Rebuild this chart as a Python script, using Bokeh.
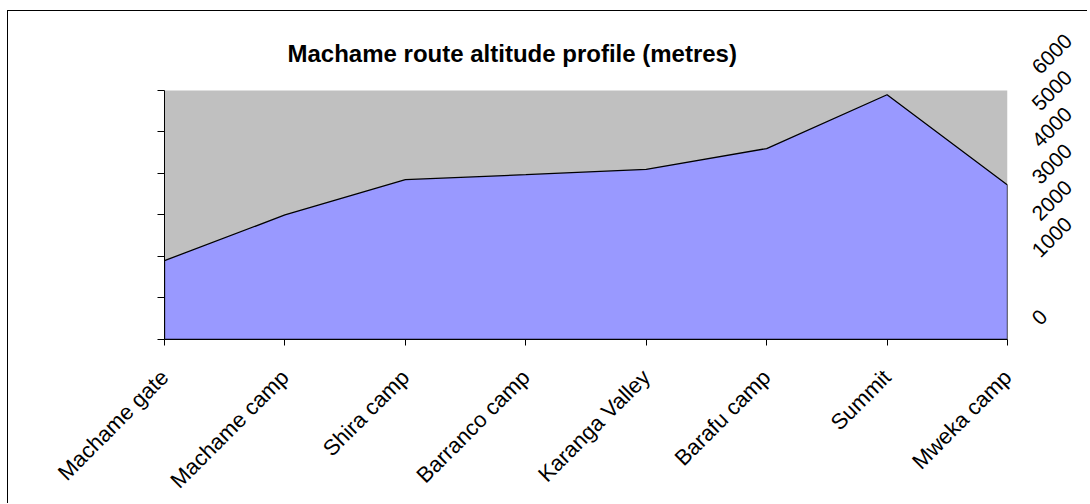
import math
from bokeh.plotting import figure
from bokeh.models import Range1d, LinearAxis, FixedTicker, BoxAnnotation
from bokeh.embed import file_html
from bokeh.resources import INLINE

# ---- data ----
categories = ["Machame gate", "Machame camp", "Shira camp", "Barranco camp",
              "Karanga Valley", "Barafu camp", "Summit", "Mweka camp"]
altitude = [1900, 3000, 3850, 3970, 4100, 4600, 5895, 3720]
left_ticks = [0, 1000, 2000, 3000, 4000, 5000, 6000]
right_tick_values = [0, 1000, 2000, 3000, 4000, 5000, 6000]
right_tick_labels = ["0", "1000", "2000", "3000", "4000", "5000", "6000"]
title_text = "Machame route altitude profile (metres)"

# ---- layout constants ----
W, H = 1080, 493
ML, MR, MT, MB = 156, 81, 55, 164
PLOT_TOP = 6000                      # top of the grey plot area
FRAME_PX = H - MT - MB               # frame height in px
PX_PER_UNIT = 250 / PLOT_TOP         # grey area is 250 px tall
Y_END = FRAME_PX / PX_PER_UNIT
RIGHT_RANGE = (-1337, 6109)          # secondary scale used only for label placement
ZERO_LABEL_AT = -848                 # where Excel drew its "0" label

xs = list(range(len(categories)))

p = figure(width=W, height=H, output_backend="svg", toolbar_location=None,
           x_range=Range1d(0, len(categories) - 1), y_range=Range1d(0, Y_END),
           x_axis_type=None, y_axis_type=None,
           min_border_left=ML, min_border_right=MR, min_border_top=MT, min_border_bottom=MB)
p.outline_line_color = None
p.background_fill_color = "white"
p.border_fill_color = "white"
# chart border: only its top and left edges fall inside the window
p.styles = {"margin-top": "11px", "margin-left": "8px",
            "box-shadow": "-1px -1px 0px 0px #000000"}

# title
p.title.text = title_text
p.title.text_font = "Liberation Sans"
p.title.text_font_style = "bold"
p.title.text_font_size = "24px"
p.title.text_color = "black"
p.title.align = "left"
p.title.offset = 123
p.title.standoff = 0
p.title.vertical_align = "bottom"

# grey plot area
p.add_layout(BoxAnnotation(bottom=0, top=PLOT_TOP, fill_color="#c0c0c0", fill_alpha=1,
                           line_color=None, level="underlay"))

# area
p.patch(x=xs + [xs[-1], xs[0]], y=altitude + [0, 0],
        fill_color="#9999ff", fill_alpha=1, line_color="black", line_width=1.3)

# left axis (ticks only)
la = LinearAxis(ticker=FixedTicker(ticks=left_ticks, minor_ticks=[]), bounds=(0, PLOT_TOP))
la.axis_line_color = "black"
la.major_tick_line_color = "black"
la.major_tick_out = 7
la.major_tick_in = 0
la.minor_tick_out = 0
la.major_label_text_color = None
p.add_layout(la, "left")

# bottom axis
ba = LinearAxis(ticker=FixedTicker(ticks=xs, minor_ticks=[]),
                major_label_overrides={i: c for i, c in zip(xs, categories)})
ba.axis_line_color = "black"
ba.major_tick_line_color = "black"
ba.major_tick_out = 6
ba.major_tick_in = 0
ba.minor_tick_out = 0
ba.major_label_orientation = math.pi / 4
ba.major_label_standoff = 28
ba.major_label_text_font = "Liberation Sans"
ba.major_label_text_font_size = "22px"
ba.major_label_text_color = "black"
p.add_layout(ba, "below")

# right axis (labels only)
p.extra_y_ranges = {"right": Range1d(*RIGHT_RANGE)}
right_ticks = [v if v > 0 else ZERO_LABEL_AT for v in right_tick_values]
ra = LinearAxis(y_range_name="right", ticker=FixedTicker(ticks=right_ticks, minor_ticks=[]),
                major_label_overrides={t: lab for t, lab in zip(right_ticks, right_tick_labels)})
ra.axis_line_color = None
ra.major_tick_line_color = None
ra.major_tick_out = 0
ra.major_tick_in = 0
ra.minor_tick_out = 0
ra.minor_tick_in = 0
ra.major_label_orientation = math.pi / 4
ra.major_label_standoff = 28
ra.major_label_text_font = "Liberation Sans"
ra.major_label_text_font_size = "21px"
ra.major_label_text_color = "black"
p.add_layout(ra, "right")

open("out.html", "w").write(file_html(p, INLINE))
